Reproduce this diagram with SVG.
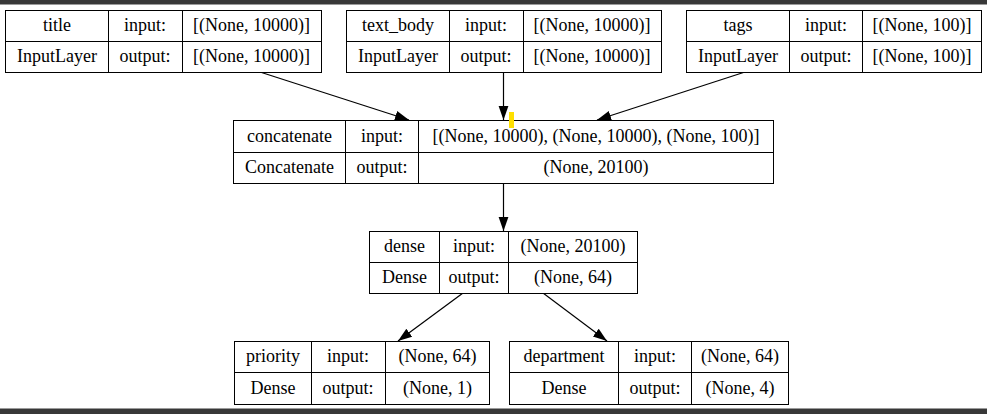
<svg xmlns="http://www.w3.org/2000/svg" width="987" height="414" viewBox="0 0 987 414">
<style>
.b{fill:#fff;stroke:#000;stroke-width:1}
.d{stroke:#000;stroke-width:1;fill:none}
text{font-family:"Liberation Serif","Times New Roman",serif;font-size:18px;fill:#000;text-anchor:middle}
.e{stroke:#000;stroke-width:1.2;fill:none;marker-end:url(#ah)}
</style>
<defs>
<marker id="ah" viewBox="0 0 10 10" refX="10" refY="5" markerWidth="14" markerHeight="14" markerUnits="userSpaceOnUse" orient="auto">
<path d="M0,1.5 L10,5 L0,8.5 Z" fill="#000"/>
</marker>
</defs>
<rect x="0" y="0" width="987" height="414" fill="#fff"/>
<rect x="0" y="0" width="987" height="4.5" fill="#383838"/>
<rect x="0" y="408.5" width="987" height="5.5" fill="#383838"/>
<g id="edges">
<path class="e" d="M260,72 L409,120"/>
<path class="e" d="M503.5,72 L503.5,120"/>
<path class="e" d="M745,72 L597,120"/>
<path class="e" d="M503.5,183 L503.5,231"/>
<path class="e" d="M463,293 L398,341"/>
<path class="e" d="M543,293 L607,341"/>
</g>
<g id="title">
<rect class="b" x="5.5" y="10.5" width="316" height="62"/>
<path class="d" d="M5.5,41.5 H321.5 M108.5,10.5 V72.5 M182.5,10.5 V72.5"/>
<text x="57" y="31">title</text><text x="145" y="31">input:</text><text x="251.5" y="31">[(None, 10000)]</text>
<text x="57" y="62">InputLayer</text><text x="145" y="62">output:</text><text x="251.5" y="62">[(None, 10000)]</text>
</g>
<g id="text_body">
<rect class="b" x="346.5" y="10.5" width="315" height="62"/>
<path class="d" d="M346.5,41.5 H661.5 M449.5,10.5 V72.5 M523.5,10.5 V72.5"/>
<text x="398" y="31">text_body</text><text x="486" y="31">input:</text><text x="592" y="31">[(None, 10000)]</text>
<text x="398" y="62">InputLayer</text><text x="486" y="62">output:</text><text x="592" y="62">[(None, 10000)]</text>
</g>
<g id="tags">
<rect class="b" x="686.5" y="10.5" width="295" height="62"/>
<path class="d" d="M686.5,41.5 H981.5 M789.5,10.5 V72.5 M862.5,10.5 V72.5"/>
<text x="738" y="31">tags</text><text x="826" y="31">input:</text><text x="922" y="31">[(None, 100)]</text>
<text x="738" y="62">InputLayer</text><text x="826" y="62">output:</text><text x="922" y="62">[(None, 100)]</text>
</g>
<g id="concatenate">
<rect class="b" x="233.5" y="120.5" width="540" height="63"/>
<path class="d" d="M233.5,152.5 H773.5 M345.5,120.5 V183.5 M418.5,120.5 V183.5"/>
<text x="289.5" y="142">concatenate</text><text x="382" y="142">input:</text><text x="596" y="142">[(None, 10000), (None, 10000), (None, 100)]</text>
<text x="289.5" y="173">Concatenate</text><text x="382" y="173">output:</text><text x="596" y="173">(None, 20100)</text>
</g>
<rect x="509" y="112" width="5" height="16" fill="#ffe000"/>
<g id="dense">
<rect class="b" x="369.5" y="231.5" width="268" height="62"/>
<path class="d" d="M369.5,262.5 H637.5 M439.5,231.5 V293.5 M508.5,231.5 V293.5"/>
<text x="404.5" y="252">dense</text><text x="474" y="252">input:</text><text x="573" y="252">(None, 20100)</text>
<text x="404.5" y="283">Dense</text><text x="474" y="283">output:</text><text x="573" y="283">(None, 64)</text>
</g>
<g id="priority">
<rect class="b" x="234.5" y="341.5" width="255" height="63"/>
<path class="d" d="M234.5,372.5 H489.5 M311.5,341.5 V404.5 M385.5,341.5 V404.5"/>
<text x="273" y="362">priority</text><text x="348" y="362">input:</text><text x="437.5" y="362">(None, 64)</text>
<text x="273" y="394">Dense</text><text x="348" y="394">output:</text><text x="437.5" y="394">(None, 1)</text>
</g>
<g id="department">
<rect class="b" x="509.5" y="341.5" width="279" height="63"/>
<path class="d" d="M509.5,372.5 H788.5 M618.5,341.5 V404.5 M691.5,341.5 V404.5"/>
<text x="564" y="362">department</text><text x="655" y="362">input:</text><text x="740" y="362">(None, 64)</text>
<text x="564" y="394">Dense</text><text x="655" y="394">output:</text><text x="740" y="394">(None, 4)</text>
</g>
</svg>
